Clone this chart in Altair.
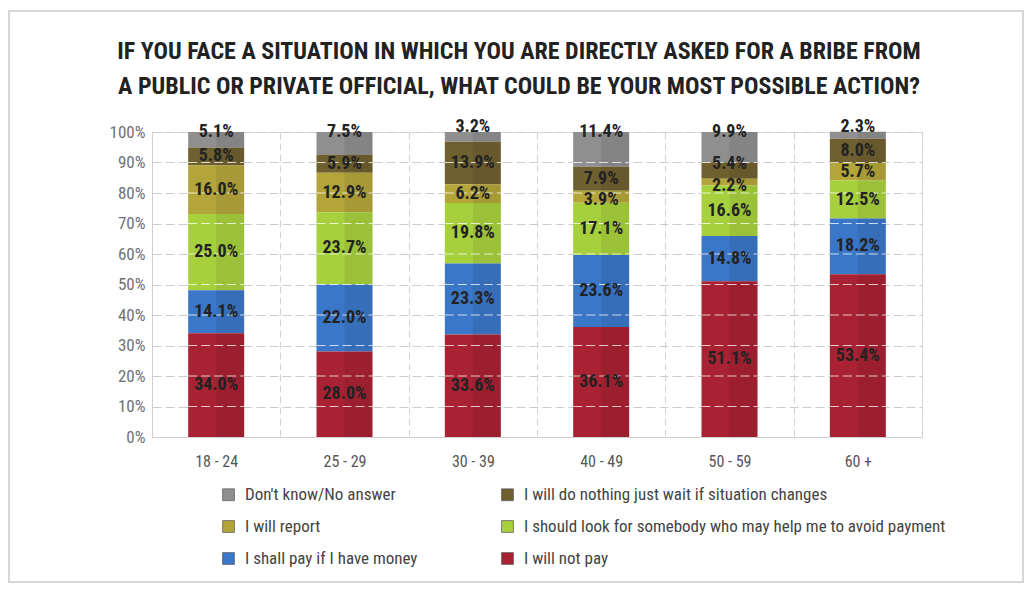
import altair as alt
import pandas as pd

ages = ["18 - 24", "25 - 29", "30 - 39", "40 - 49", "50 - 59", "60 +"]
series = [
    "Don't know/No answer",
    "I will do nothing just wait if situation changes",
    "I will report",
    "I should look for somebody who may help me to avoid payment",
    "I shall pay if I have money",
    "I will not pay",
]
dont_know = [5.1, 7.5, 3.2, 11.4, 9.9, 2.3]
do_nothing = [5.8, 5.9, 13.9, 7.9, 5.4, 8.0]
report = [16.0, 12.9, 6.2, 3.9, 2.2, 5.7]
look_for_help = [25.0, 23.7, 19.8, 17.1, 16.6, 12.5]
pay_if_money = [14.1, 22.0, 23.3, 23.6, 14.8, 18.2]
not_pay = [34.0, 28.0, 33.6, 36.1, 51.1, 53.4]
colors = ["#8f8f8f", "#6f6030", "#b4a53a", "#a7d03d", "#3b77c8", "#a82233"]
y_ticks = [0, 10, 20, 30, 40, 50, 60, 70, 80, 90, 100]

title_lines = [
    "IF YOU FACE A SITUATION IN WHICH YOU ARE DIRECTLY ASKED FOR A BRIBE FROM",
    "A PUBLIC OR PRIVATE OFFICIAL, WHAT COULD BE YOUR MOST POSSIBLE ACTION?",
]

FONT = "Liberation Sans Narrow, Roboto Condensed, DejaVu Sans Condensed, sans-serif"

values = [dont_know, do_nothing, report, look_for_help, pay_if_money, not_pay]
rows = []
for si, (name, vals) in enumerate(zip(series, values)):
    for a, v in zip(ages, vals):
        rows.append({"age": a, "series": name, "value": v, "order": len(series) - 1 - si})
df = pd.DataFrame(rows)
TOP_ORDER = len(series) - 1

grid_df = pd.DataFrame([{"age": a, "g": t} for a in ages for t in y_ticks if 0 < t < 100])

W, H = 770, 305
PAD = {"left": 144, "top": 124, "right": 103, "bottom": 148}

yscale = alt.Scale(domain=[0, 100], nice=False)
yaxis = alt.Axis(
    title=None,
    values=y_ticks,
    labelExpr="datum.value + '%'",
    labelOverlap=False,
    grid=True,
    gridDash=[9, 4],
    gridColor="#cccccc",
    ticks=False,
    domain=True,
    domainColor="#cfcfcf",
    labelFont=FONT,
    labelFontSize=17,
    labelColor="#707070",
    labelPadding=7,
)
xaxis = alt.Axis(
    title=None,
    labelAngle=0,
    tickBand="extent",
    grid=True,
    gridDash=[7, 4],
    gridColor="#d2d2d2",
    ticks=False,
    domain=True,
    domainColor="#cfcfcf",
    labelFont=FONT,
    labelFontSize=16,
    labelColor="#555555",
    labelPadding=16,
)
xscale = alt.Scale(paddingInner=0.0, paddingOuter=0.0)


def xenc():
    return alt.X("age:N", sort=ages, scale=xscale, axis=xaxis)


frame = alt.Chart(pd.DataFrame({"k": [0]})).mark_rect(
    fillOpacity=0, stroke="#d6d6d6", strokeWidth=2
).encode(
    x=alt.value(-143), x2=alt.value(W + PAD["right"] - 2),
    y=alt.value(-121), y2=alt.value(H + PAD["bottom"] - 3),
)

bars = alt.Chart(df).mark_bar(size=56).encode(
    x=xenc(),
    y=alt.Y("value:Q", stack="zero", scale=yscale, axis=yaxis),
    color=alt.Color(
        "series:N",
        scale=alt.Scale(domain=series, range=colors),
        legend=alt.Legend(
            title=None,
            orient="none",
            legendX=68,
            legendY=354,
            columns=2,
            direction="horizontal",
            symbolType="square",
            symbolSize=140,
            symbolStrokeColor="#555555",
            symbolStrokeWidth=0.7,
            labelFont=FONT,
            labelFontSize=17,
            labelColor="#444444",
            labelLimit=600,
            labelOffset=8,
            rowPadding=14,
            columnPadding=81,
        ),
    ),
    order=alt.Order("order:Q", sort="ascending"),
)

shade = alt.Chart(df).mark_bar(size=28, xOffset=14, color="black", opacity=0.07).encode(
    x=xenc(),
    y=alt.Y("value:Q", stack="zero", scale=yscale, axis=yaxis),
    detail="series:N",
    order=alt.Order("order:Q", sort="ascending"),
)

white_grid = alt.Chart(grid_df).mark_rule(
    color="white", strokeDash=[9, 4], strokeWidth=1.2, opacity=0.75, xOffset=-28, x2Offset=28
).encode(
    x=xenc(),
    x2=alt.X2("age"),
    y=alt.Y("g:Q", scale=yscale, axis=yaxis),
)

labels = alt.Chart(df).transform_stack(
    stack="value",
    groupby=["age"],
    sort=[alt.SortField("order", order="ascending")],
    as_=["v0", "v1"],
).transform_window(
    window=[alt.WindowFieldDef(op="lag", field="value", param=1, **{"as": "prev"})],
    groupby=["age"],
    sort=[alt.SortField("order", order="ascending")],
    frame=[None, None],
).transform_calculate(
    mid="(datum.v0 + datum.v1) / 2",
    ypos=(
        f"datum.order == {TOP_ORDER} ? datum.v1 + (datum.value < 4 ? 1.5 : 0) : "
        "(datum.value < 3 ? datum.v0 - 0.3 : "
        "(datum.value < 4.5 ? datum.mid - 1 : "
        "(datum.prev != null && datum.prev < 3 ? datum.mid + 2 : datum.mid)))"
    ),
    label="format(datum.value, '.1f') + '%'",
).mark_text(
    font=FONT, fontSize=18, fontWeight="bold", color="#222222"
).encode(
    x=xenc(),
    y=alt.Y("ypos:Q", scale=yscale, axis=yaxis),
    text="label:N",
)

chart = alt.layer(frame, bars, shade, white_grid, labels).properties(
    width=W,
    height=H,
    autosize=alt.AutoSizeParams(type="none"),
    padding=PAD,
    title=alt.TitleParams(
        text=title_lines,
        font=FONT,
        fontSize=24,
        fontWeight="bold",
        color="#222222",
        anchor="middle",
        frame="group",
        dx=-18,
        offset=-89,
        lineHeight=35,
    ),
).configure_view(stroke="#dcdcdc").configure(background="white")

chart.save("out.html", embed_options={"renderer": "svg", "actions": False})
